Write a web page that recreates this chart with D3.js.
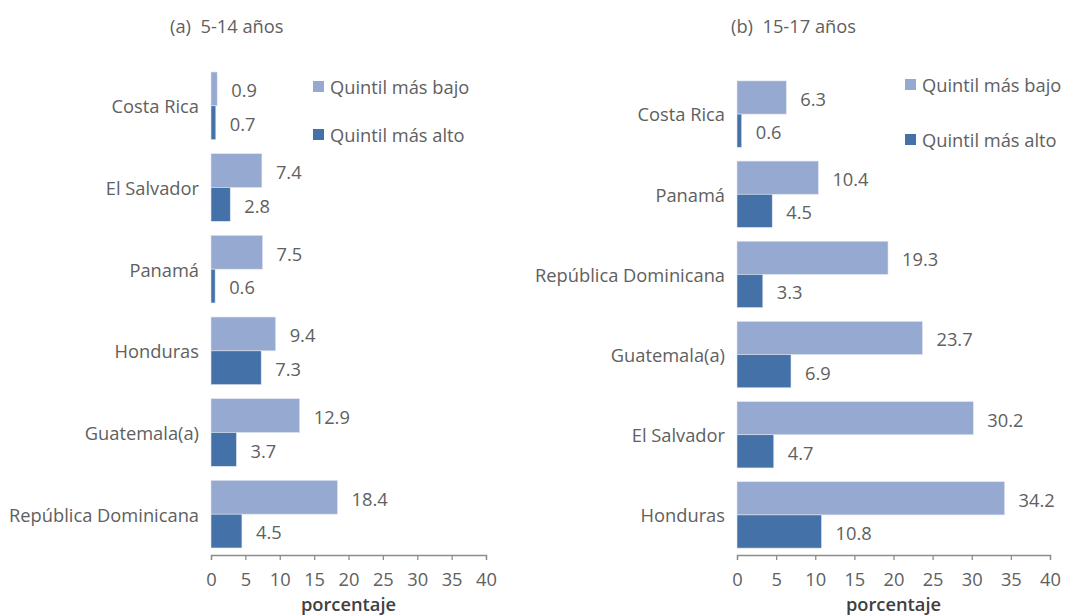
<!DOCTYPE html>
<html><head><meta charset="utf-8">
<script src="https://cdn.jsdelivr.net/npm/d3@7"></script>
<style>body{margin:0;background:#fff;}svg{display:block;font-family:"Open Sans",sans-serif;}text{white-space:pre;}</style>
</head><body><svg id="c" width="1065" height="615"></svg>
<script>
const catsA = ["Costa Rica","El Salvador","Panamá","Honduras","Guatemala(a)","República Dominicana"];
const lowA = [0.9,7.4,7.5,9.4,12.9,18.4];
const highA = [0.7,2.8,0.6,7.3,3.7,4.5];
const catsB = ["Costa Rica","Panamá","República Dominicana","Guatemala(a)","El Salvador","Honduras"];
const lowB = [6.3,10.4,19.3,23.7,30.2,34.2];
const highB = [0.6,4.5,3.3,6.9,4.7,10.8];
const seriesNames = ["Quintil más bajo","Quintil más alto"];
const titles = ["(a)  5-14 años","(b)  15-17 años"];
const xTicks = [0,5,10,15,20,25,30,35,40];
const axisTitle = "porcentaje";

const colors = ["#95a9d1","#4471a7"];
const txt = "#606060";
const FS = 18.3;
const FF = "'Open Sans',sans-serif";
const svg = d3.select("#c");

function panel(cfg){
  const {cats, low, high, x0, x1, top, bottom, title, titleX, legX, legY} = cfg;
  const g = svg.append("g");
  const x = d3.scaleLinear().domain([0,40]).range([x0,x1]);
  const y = d3.scaleBand().domain(cats).range([top,bottom]).paddingInner(0.172).paddingOuter(0.086);
  const sub = d3.scaleBand().domain([0,1]).range([0,y.bandwidth()]);
  cats.forEach((c,i)=>{
    [low[i],high[i]].forEach((v,k)=>{
      g.append("rect").attr("x",x(0)).attr("y",y(c)+sub(k))
        .attr("width",x(v)-x(0)).attr("height",sub.bandwidth())
        .attr("fill",colors[k]).attr("stroke","#dfe5f1").attr("stroke-width",0.6);
      g.append("text").attr("x",x(v)+14).attr("y",y(c)+sub(k)+sub.bandwidth()/2+2)
        .attr("dy","0.35em").attr("fill",txt).attr("font-size",FS).text(v.toFixed(1));
    });
    g.append("text").attr("x",x(0)-12).attr("y",y(c)+y.bandwidth()/2+1)
      .attr("dy","0.35em").attr("text-anchor","end").attr("fill",txt).attr("font-size",FS).text(c);
  });
  const ax = g.append("g").attr("transform",`translate(0,${bottom})`)
    .call(d3.axisBottom(x).tickValues(xTicks).tickSize(5).tickSizeOuter(5).tickPadding(13));
  ax.select(".domain").attr("stroke","#8c8c8c").attr("stroke-width",1.3);
  ax.selectAll(".tick line").attr("stroke","#8c8c8c").attr("stroke-width",1.3);
  ax.selectAll(".tick text").attr("fill",txt).attr("font-size",FS).attr("font-family",FF);
  g.append("text").attr("x",(x0+x1)/2).attr("y",611).attr("text-anchor","middle")
    .attr("fill","#404040").attr("font-weight","600").attr("font-size",FS).text(axisTitle);
  g.append("text").attr("x",titleX).attr("y",33).attr("fill",txt).attr("font-size",FS).text(title);
  seriesNames.forEach((s,k)=>{
    const ly = legY[k];
    g.append("rect").attr("x",legX).attr("y",ly-6).attr("width",11).attr("height",11).attr("fill",colors[k]);
    g.append("text").attr("x",legX+17).attr("y",ly+1).attr("dy","0.35em").attr("fill",txt).attr("font-size",FS).text(s);
  });
}
panel({cats:catsA, low:lowA, high:highA, x0:211, x1:486, top:65, bottom:555, title:titles[0], titleX:170, legX:313, legY:[87,135]});
panel({cats:catsB, low:lowB, high:highB, x0:737, x1:1050, top:74, bottom:555, title:titles[1], titleX:731, legX:905, legY:[85,140]});
</script></body></html>
